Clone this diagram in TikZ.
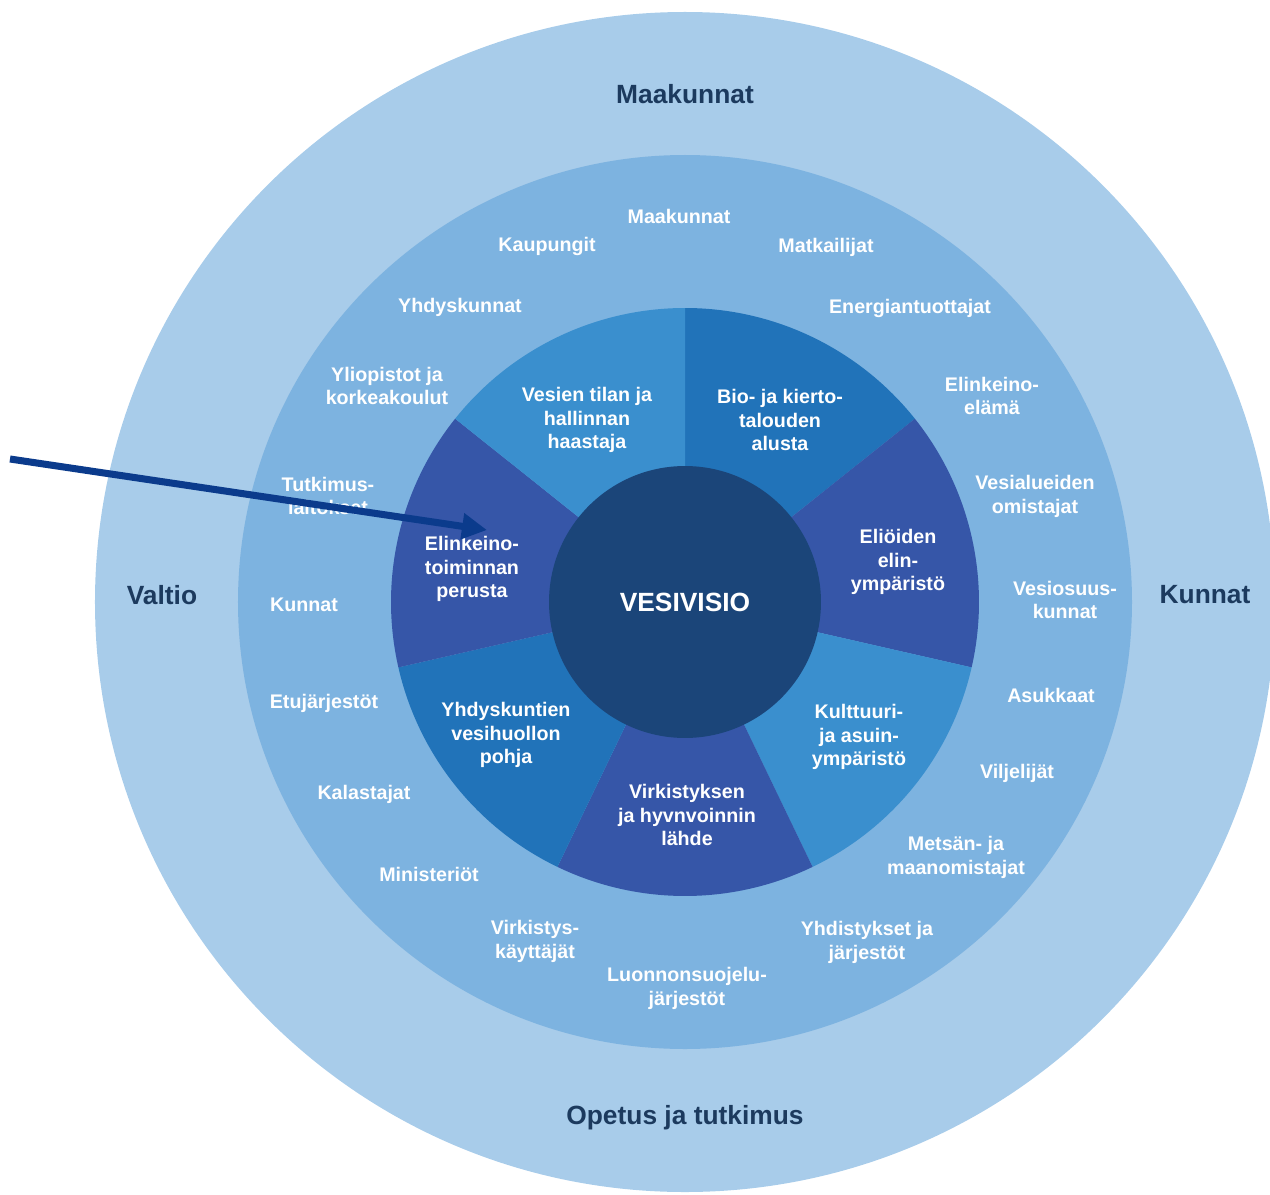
\documentclass[tikz,border=0pt]{standalone}
\usepackage{fontspec}
\setmainfont{Liberation Sans}
\usepackage{tikz}
\usetikzlibrary{arrows.meta}

\definecolor{outerring}{HTML}{A8CCEA}
\definecolor{midring}{HTML}{7DB3E0}
\definecolor{seglight}{HTML}{3A8FCE}
\definecolor{segmid}{HTML}{2173B9}
\definecolor{segdark}{HTML}{3656A8}
\definecolor{corefill}{HTML}{1B4579}
\definecolor{navytext}{HTML}{1C3A5E}
\definecolor{pointer}{HTML}{0B3B8C}

\newcommand{\lblfont}{\fontsize{11.2}{13.6}\selectfont\bfseries}
\newcommand{\bigfont}{\fontsize{15}{18}\selectfont\bfseries}

\begin{document}
\begin{tikzpicture}[x=0.02cm, y=0.02cm,
  lbl/.style = {text=white, font=\lblfont, align=center},
  far/.style = {text=navytext, font=\bigfont},
  core/.style = {circle, fill=corefill, minimum size=5.44cm, inner sep=0pt, text=white, font=\bigfont},
  arrowline/.style = {draw=pointer, line width=4pt, -{Triangle[length=0.5cm, width=0.5cm]}}]
  \useasboundingbox (-685,-592) rectangle (585,602);
  \clip (-685,-592) rectangle (585,602);

  % rings
  \fill[outerring] (0,0) circle[radius=590];
  \fill[midring] (0,0) circle[radius=447];

  % seven segments
  \fill[segmid]   (0,0) -- (90:294) arc[start angle=90, end angle=38.571, radius=294] -- cycle;
  \fill[segdark]  (0,0) -- (38.571:294) arc[start angle=38.571, end angle=-12.857, radius=294] -- cycle;
  \fill[seglight] (0,0) -- (-12.857:294) arc[start angle=-12.857, end angle=-64.286, radius=294] -- cycle;
  \fill[segdark]  (0,0) -- (-64.286:294) arc[start angle=-64.286, end angle=-115.714, radius=294] -- cycle;
  \fill[segmid]   (0,0) -- (-115.714:294) arc[start angle=-115.714, end angle=-167.143, radius=294] -- cycle;
  \fill[segdark]  (0,0) -- (192.857:294) arc[start angle=192.857, end angle=141.429, radius=294] -- cycle;
  \fill[seglight] (0,0) -- (141.429:294) arc[start angle=141.429, end angle=90, radius=294] -- cycle;

  \node[core] (core) at (0,0) {VESIVISIO};

  % outer ring
  \node[far] (o1) at (0,508) {Maakunnat};
  \node[far] (o2) at (-523,7) {Valtio};
  \node[far] (o3) at (520,7) {Kunnat};
  \node[far] (o4) at (0,-516) {Opetus ja tutkimus};

  % middle ring
  \node[lbl] (g1) at (-6,386) {Maakunnat};
  \node[lbl] (g2) at (-138,356) {Kaupungit};
  \node[lbl] (g3) at (141,355) {Matkailijat};
  \node[lbl] (g4) at (-225,295) {Yhdyskunnat};
  \node[lbl] (g5) at (225,294) {Energiantuottajat};
  \node[lbl] (g6) at (-298,216) {Yliopistot ja\\korkeakoulut};
  \node[lbl] (g7) at (307,206) {Elinkeino-\\elämä};
  \node[lbl] (g8) at (-357,106) {Tutkimus-\\laitokset};
  \node[lbl] (g9) at (350,106) {Vesialueiden\\omistajat};
  \node[lbl] (g10) at (-381,-3) {Kunnat};
  \node[lbl] (g11) at (380,2) {Vesiosuus-\\kunnat};
  \node[lbl] (g12) at (-361,-101) {Etujärjestöt};
  \node[lbl] (g13) at (366,-93) {Asukkaat};
  \node[lbl] (g14) at (-321,-192) {Kalastajat};
  \node[lbl] (g15) at (332,-171) {Viljelijät};
  \node[lbl] (g16) at (-256,-272) {Ministeriöt};
  \node[lbl] (g17) at (271,-255) {Metsän- ja\\maanomistajat};
  \node[lbl] (g18) at (-150,-339) {Virkistys-\\käyttäjät};
  \node[lbl] (g19) at (182,-340) {Yhdistykset ja\\järjestöt};
  \node[lbl] (g20) at (2,-386) {Luonnonsuojelu-\\järjestöt};

  % segments
  \node[lbl] (s1) at (-98,182) {Vesien tilan ja\\hallinnan\\haastaja};
  \node[lbl] (s2) at (95,182) {Bio- ja kierto-\\talouden\\alusta};
  \node[lbl] (s3) at (213,40) {Eliöiden\\elin-\\ympäristö};
  \node[lbl] (s4) at (174,-135) {Kulttuuri-\\ja asuin-\\ympäristö};
  \node[lbl] (s5) at (2,-213) {Virkistyksen\\ja hyvnvoinnin\\lähde};
  \node[lbl] (s6) at (-179,-133) {Yhdyskuntien\\vesihuollon\\pohja};
  \node[lbl] (s7) at (-213,33) {Elinkeino-\\toiminnan\\perusta};

  \coordinate (tail) at (-675,143);
  \coordinate (tip) at (-198,72);
  \draw[arrowline] (tail) -- (tip);

\end{tikzpicture}
\end{document}
